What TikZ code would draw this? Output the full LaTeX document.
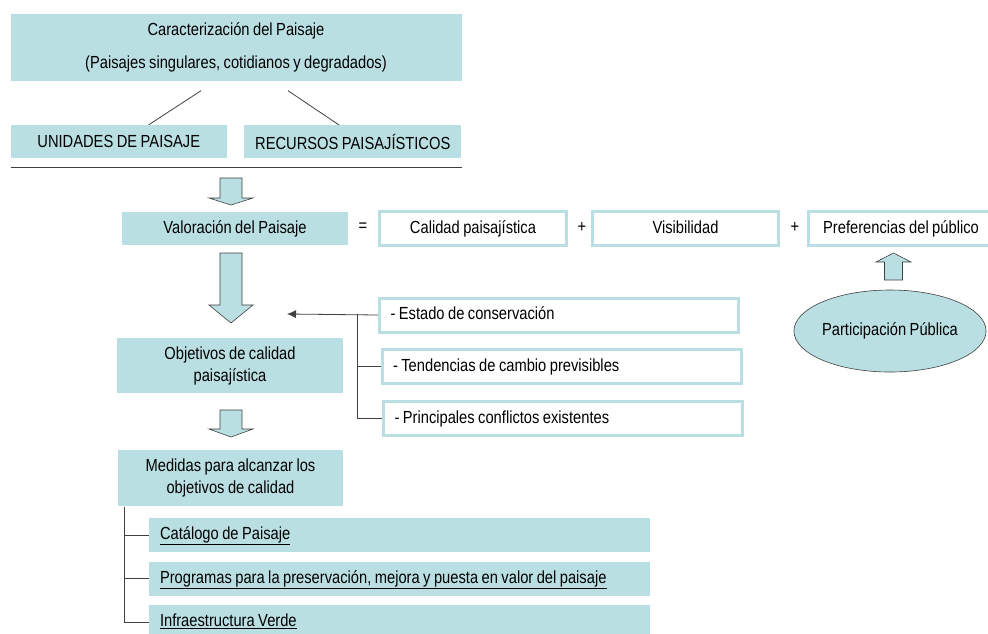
\documentclass[tikz,border=0pt]{standalone}
\usepackage{fontspec}
\setmainfont{Liberation Sans}[FakeStretch=0.84, WordSpace=0.85]
\usetikzlibrary{arrows, arrows.meta, shapes, calc, positioning, shapes.geometric}
\definecolor{lpcyan}{RGB}{186,223,226}
\definecolor{lpline}{RGB}{64,64,64}
\newcommand{\lpleft}[2]{\makebox[#1][l]{#2}}

\begin{document}
\begin{tikzpicture}[x=1pt, y=-1pt, font=\fontsize{17.5}{22}\selectfont]
\tikzset{FillStyle/.style = {fill=lpcyan, draw=none, inner sep=0pt, align=center}}
\tikzset{OutStyle/.style = {draw=lpcyan, line width=3pt, fill=white, inner sep=0pt, minimum height=34pt, text height=12.5pt, text depth=3.5pt}}
\tikzset{ListStyle/.style = {OutStyle, minimum width=359pt}}
\tikzset{SubStyle/.style = {fill=lpcyan, draw=none, inner sep=0pt, minimum width=501pt, minimum height=34pt, text height=12.5pt, text depth=3.5pt}}
\tikzset{LinkStyle/.style = {draw=lpline, line width=0.8pt}}
\tikzset{BlockStyle/.style = {fill=lpcyan, draw=lpline, line width=0.6pt, line join=miter}}
\useasboundingbox (0,0) rectangle (988,633);
\fill[white] (0,0) rectangle (988,633);

% caracterizacion
\node[FillStyle, minimum width=451pt, minimum height=67pt] (lp-caract) at (236,47)
    {Caracterización del Paisaje\\[11pt](Paisajes singulares, cotidianos y degradados)};
\node[FillStyle, minimum width=216pt, minimum height=33pt] (lp-unidades) at (118.75,141.5) {UNIDADES DE PAISAJE};
\node[FillStyle, minimum width=217pt, minimum height=33pt] (lp-recursos) at (352.75,141.5) {RECURSOS PAISAJÍSTICOS};
\draw[LinkStyle] ([xshift=-35pt, yshift=-10pt]lp-caract.south) -- ([xshift=30pt]lp-unidades.north);
\draw[LinkStyle] ([xshift=52pt, yshift=-10pt]lp-caract.south) -- ([xshift=-14pt]lp-recursos.north);
\draw[LinkStyle] (10.5,167) -- (461.5,167);

% valoracion
\node[FillStyle, minimum width=226pt, minimum height=33pt, text height=12.5pt, text depth=3.5pt] (lp-valoracion) at (235,228.5) {Valoración del Paisaje};
\node (lp-eq) at (363,227) {=};
\node[OutStyle, minimum width=187pt] (lp-calidad) at (473,228.5) {Calidad paisajística};
\node (lp-plus1) at (582,227) {+};
\node[OutStyle, minimum width=186pt] (lp-visib) at (685.5,228.5) {Visibilidad};
\node (lp-plus2) at (795,227) {+};
\node[OutStyle, minimum width=185pt] (lp-prefer) at (901,228.5) {Preferencias del público};
\node[ellipse, fill=lpcyan, draw=lpline, line width=0.6pt, minimum width=180pt, minimum height=82pt, inner sep=0pt]
    (lp-partic) at (890,331) {Participación Pública};
\draw[BlockStyle] (884.5,280) -- (884.5,262) -- (876,262) -- (893.5,253) -- (911,262) -- (902.5,262) -- (902.5,280) -- cycle;

% flechas
\draw[BlockStyle] (220,178) -- (220,198) -- (209,198) -- (231,205) -- (253,198) -- (242,198) -- (242,178) -- cycle;
\draw[BlockStyle] (220,253) -- (220,305) -- (209,305) -- (231,323) -- (253,305) -- (242,305) -- (242,253) -- cycle;
\draw[BlockStyle] (220,410) -- (220,429) -- (209,429) -- (231,437) -- (253,429) -- (242,429) -- (242,410) -- cycle;

% objetivos
\node[FillStyle, minimum width=226pt, minimum height=55pt] (lp-objetivos) at (230,365.5) {Objetivos de calidad\\paisajística};
\node[ListStyle] (lp-estado) at (559,315) {\lpleft{337pt}{- Estado de conservación}};
\node[ListStyle] (lp-tendencias) at (561.5,366.5) {\lpleft{337pt}{- Tendencias de cambio previsibles}};
\node[ListStyle] (lp-conflictos) at (563,418.5) {\lpleft{337pt}{- Principales conflictos existentes}};
\coordinate (lp-tip) at (287,314);
\coordinate (lp-branch) at (357,314);
\draw[LinkStyle, -{Latex[length=9pt, width=8pt]}] (lp-estado.west) -- (lp-tip);
\draw[LinkStyle] (lp-branch) |- (lp-tendencias.west);
\draw[LinkStyle] (lp-branch) |- (lp-conflictos.west);

% medidas
\node[FillStyle, minimum width=225pt, minimum height=56pt] (lp-medidas) at (230.5,478) {Medidas para alcanzar los\\objetivos de calidad};
\node[SubStyle] (lp-catalogo) at (399.5,535) {\lpleft{479pt}{\underline{Catálogo de Paisaje}}};
\node[SubStyle] (lp-programas) at (399.5,578.5) {\lpleft{479pt}{\underline{Programas para la preservación, mejora y puesta en valor del paisaje}}};
\node[SubStyle] (lp-verde) at (399.5,622) {\lpleft{479pt}{\underline{Infraestructura Verde}}};
\coordinate (lp-mtop) at (124,507);
\draw[LinkStyle] (lp-mtop) |- (lp-catalogo.west);
\draw[LinkStyle] (lp-mtop) |- (lp-programas.west);
\draw[LinkStyle] (lp-mtop) |- (lp-verde.west);
\end{tikzpicture}
\end{document}
